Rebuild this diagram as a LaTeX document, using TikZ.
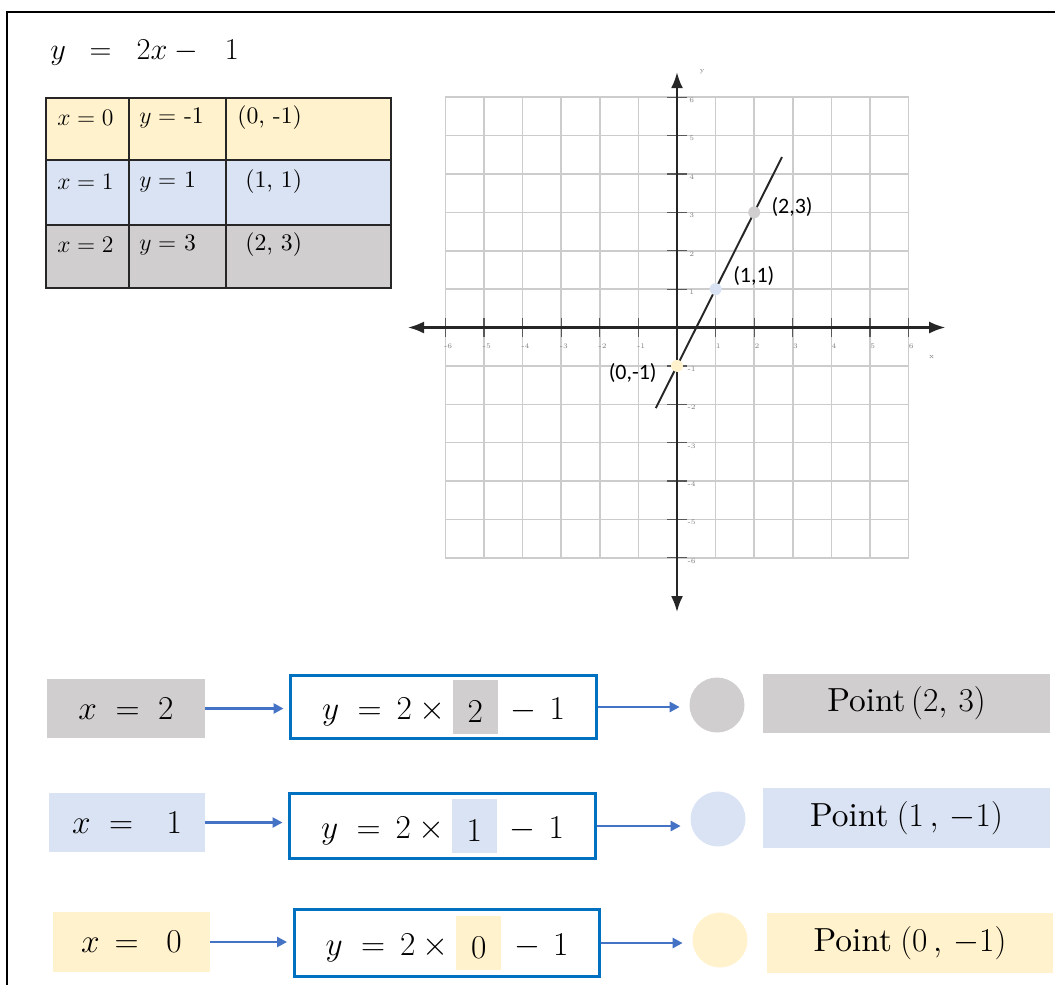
\RequirePackage{fix-cm}
\documentclass[tikz,border=0pt]{standalone}
\usepackage{amsmath,amssymb}
\usepackage{xcolor}
\usepackage{fontspec}
\usepackage{tikz}
\usetikzlibrary{arrows.meta}
\newfontfamily\lblfont{Carlito}
\newfontfamily\ptfont{lmroman10-regular.otf}
\definecolor{yelc}{HTML}{FFF2CC}
\definecolor{bluc}{HTML}{DAE3F3}
\definecolor{grayc}{HTML}{D0CECE}
\definecolor{boxblue}{HTML}{0070C0}
\definecolor{arrblue}{HTML}{4472C4}
\newcommand{\hlbox}[2]{{\setlength{\fboxsep}{0pt}\colorbox{#1}{\makebox[0.9cm]{\rule[-0.3cm]{0pt}{1.08cm}\raisebox{-0.07cm}{$#2$}}}}}
\newcommand{\bigfont}{\fontsize{19}{22}\selectfont}

\begin{document}
\begin{tikzpicture}[x=0.02cm,y=-0.02cm,
  borderline/.style={line width=1.1pt,black},
  tabline/.style={line width=0.8pt,black!85},
  tabtxt/.style={anchor=west,inner sep=0,font=\ptfont\fontsize{13.5}{15}\selectfont},
  gridline/.style={gray!40,line width=0.9pt},
  tickline/.style={gray!70!black,line width=0.7pt},
  axisline/.style={black!85,line width=1.2pt,{Latex[length=0.32cm,width=0.24cm]}-{Latex[length=0.32cm,width=0.24cm]}},
  ticklbl/.style={inner sep=0,text=gray,font=\fontsize{4}{4}\selectfont},
  ptlbl/.style={inner sep=0,font=\lblfont\fontsize{12.5}{14}\selectfont},
  ptdot/.style={circle,inner sep=0,minimum size=0.24cm},
  xbox/.style={inner sep=0,minimum height=1.18cm,font=\bigfont},
  formbox/.style={draw=boxblue,line width=1.7pt,inner sep=0,minimum width=6.12cm,font=\bigfont},
  bigdot/.style={circle,inner sep=0,minimum size=1.1cm},
  ptbox/.style={inner sep=0,minimum width=5.74cm,minimum height=1.18cm,font=\ptfont\bigfont},
  conn/.style={arrblue,line width=1.5pt,-{Triangle[length=0.2cm,width=0.2cm]},shorten >=0.11cm}]
\useasboundingbox (0,0) rectangle (1055,985);
% frame
\draw[borderline] (7,985) -- (7,12) -- (1055,12);
% equation
\node[anchor=west,inner sep=0,font=\fontsize{17.28}{20}\selectfont] (eq) at (50,53) {$y\enspace=\;\;2x-\enspace\,1$};

% table of values
\foreach \ya/\yb/\col in {98/160/yelc,160/225/bluc,225/288/grayc}
  \fill[\col] (46,\ya) rectangle (391,\yb);
\draw[tabline] (46,98) rectangle (391,288);
\foreach \yy in {160,225} \draw[tabline] (46,\yy) -- (391,\yy);
\foreach \xx in {129,226} \draw[tabline] (\xx,98) -- (\xx,288);
\foreach \yy/\a/\b/\c/\cx [count=\k] in {118/0/-1/{(0, -1)}/237,182/1/1/{(1, 1)}/245,245/2/3/{(2, 3)}/245}{
  \node[tabtxt] (tx\k) at (57,\yy) {$x = \a$};
  \node[tabtxt] (ty\k) at (139,\yy) {$y =$ \b};
  \node[tabtxt] (tp\k) at (\cx,\yy) {\c};
}

% graph
\begin{scope}[shift={(677,327.5)},x=0.772cm,y=0.768cm]
\foreach \i in {-6,...,6}{
  \draw[gridline] (\i,-6) -- (\i,6);
  \draw[gridline] (-6,\i) -- (6,\i);
}
\foreach \i in {-6,...,6}{
  \draw[tickline] (\i,-0.25) -- (\i,0.25);
  \draw[tickline] (-0.25,\i) -- (0.25,\i);
}
\foreach \i [count=\k] in {-6,...,-1,1,2,...,6}{
  \node[ticklbl] (xt\k) at (\i+0.07,-0.48) {\i};
  \node[ticklbl] (yt\k) at (0.38,\i-0.08) {\i};
}
\draw[axisline] (-6.97,0) -- (6.95,0);
\draw[axisline] (0,-7.41) -- (0,6.65);
\node[ticklbl] (ylab) at (0.65,6.65) {y};
\node[ticklbl] (xlab) at (6.6,-0.77) {x};
\draw[black!85,line width=1.1pt] (-0.55,-2.1) -- (2.72,4.44);
\node[ptdot,fill=yelc] (p0) at (0,-1) {};
\node[ptdot,fill=bluc] (p1) at (1,1) {};
\node[ptdot,fill=grayc] (p2) at (2,3) {};
\node[ptlbl,anchor=east] (l0) at (-0.52,-1.18) {(0,-1)};
\node[ptlbl,anchor=west] (l1) at (1.45,1.34) {(1,1)};
\node[ptlbl,anchor=west] (l2) at (2.44,3.14) {(2,3)};
\end{scope}

% x = 2
\node[xbox,fill=grayc,minimum width=3.16cm] (xa) at (126,708.5) {$x\;=\;2$};
\node[formbox,minimum height=1.26cm] (fa) at (443.5,707) {$y\;=\,2\times\hlbox{grayc}{2}\,-\,1$};
\node[bigdot,fill=grayc] (ca) at (717,705) {};
\node[ptbox,fill=grayc] (pa) at (906.5,703.5) {Point\,$(2,\,3)$};
% x = 1
\node[xbox,fill=bluc,minimum width=3.12cm] (xb) at (127,822.5) {$x\;=\;\;\,1$};
\node[formbox,minimum height=1.30cm] (fb) at (442.5,826) {$y\;=\,2\times\hlbox{bluc}{1}\,-\,1$};
\node[bigdot,fill=bluc] (cb) at (718,819) {};
\node[ptbox,fill=bluc,minimum height=1.2cm] (pb) at (906.5,818) {Point\hspace{.25em}$(1\,,\,{-}1)$};
% x = 0
\node[xbox,fill=yelc,minimum width=3.14cm,minimum height=1.2cm] (xc) at (131.5,942) {$x\,=\;\;0$};
\node[formbox,minimum height=1.34cm] (fc) at (447,943) {$y\;=\,2\times\hlbox{yelc}{0}\,-\,1$};
\node[bigdot,fill=yelc] (cc) at (720,940) {};
\node[ptbox,fill=yelc,minimum width=5.72cm,minimum height=1.2cm] (pc) at (910,943) {Point\hspace{.25em}$(0\,,\,{-}1)$};

\foreach \r in {a,b,c}{
  \draw[conn] (x\r.east) -- (x\r.east -| f\r.west);
  \draw[conn,shorten >=0.19cm] (f\r.east) -- (f\r.east -| c\r.west);
}
\end{tikzpicture}
\end{document}
